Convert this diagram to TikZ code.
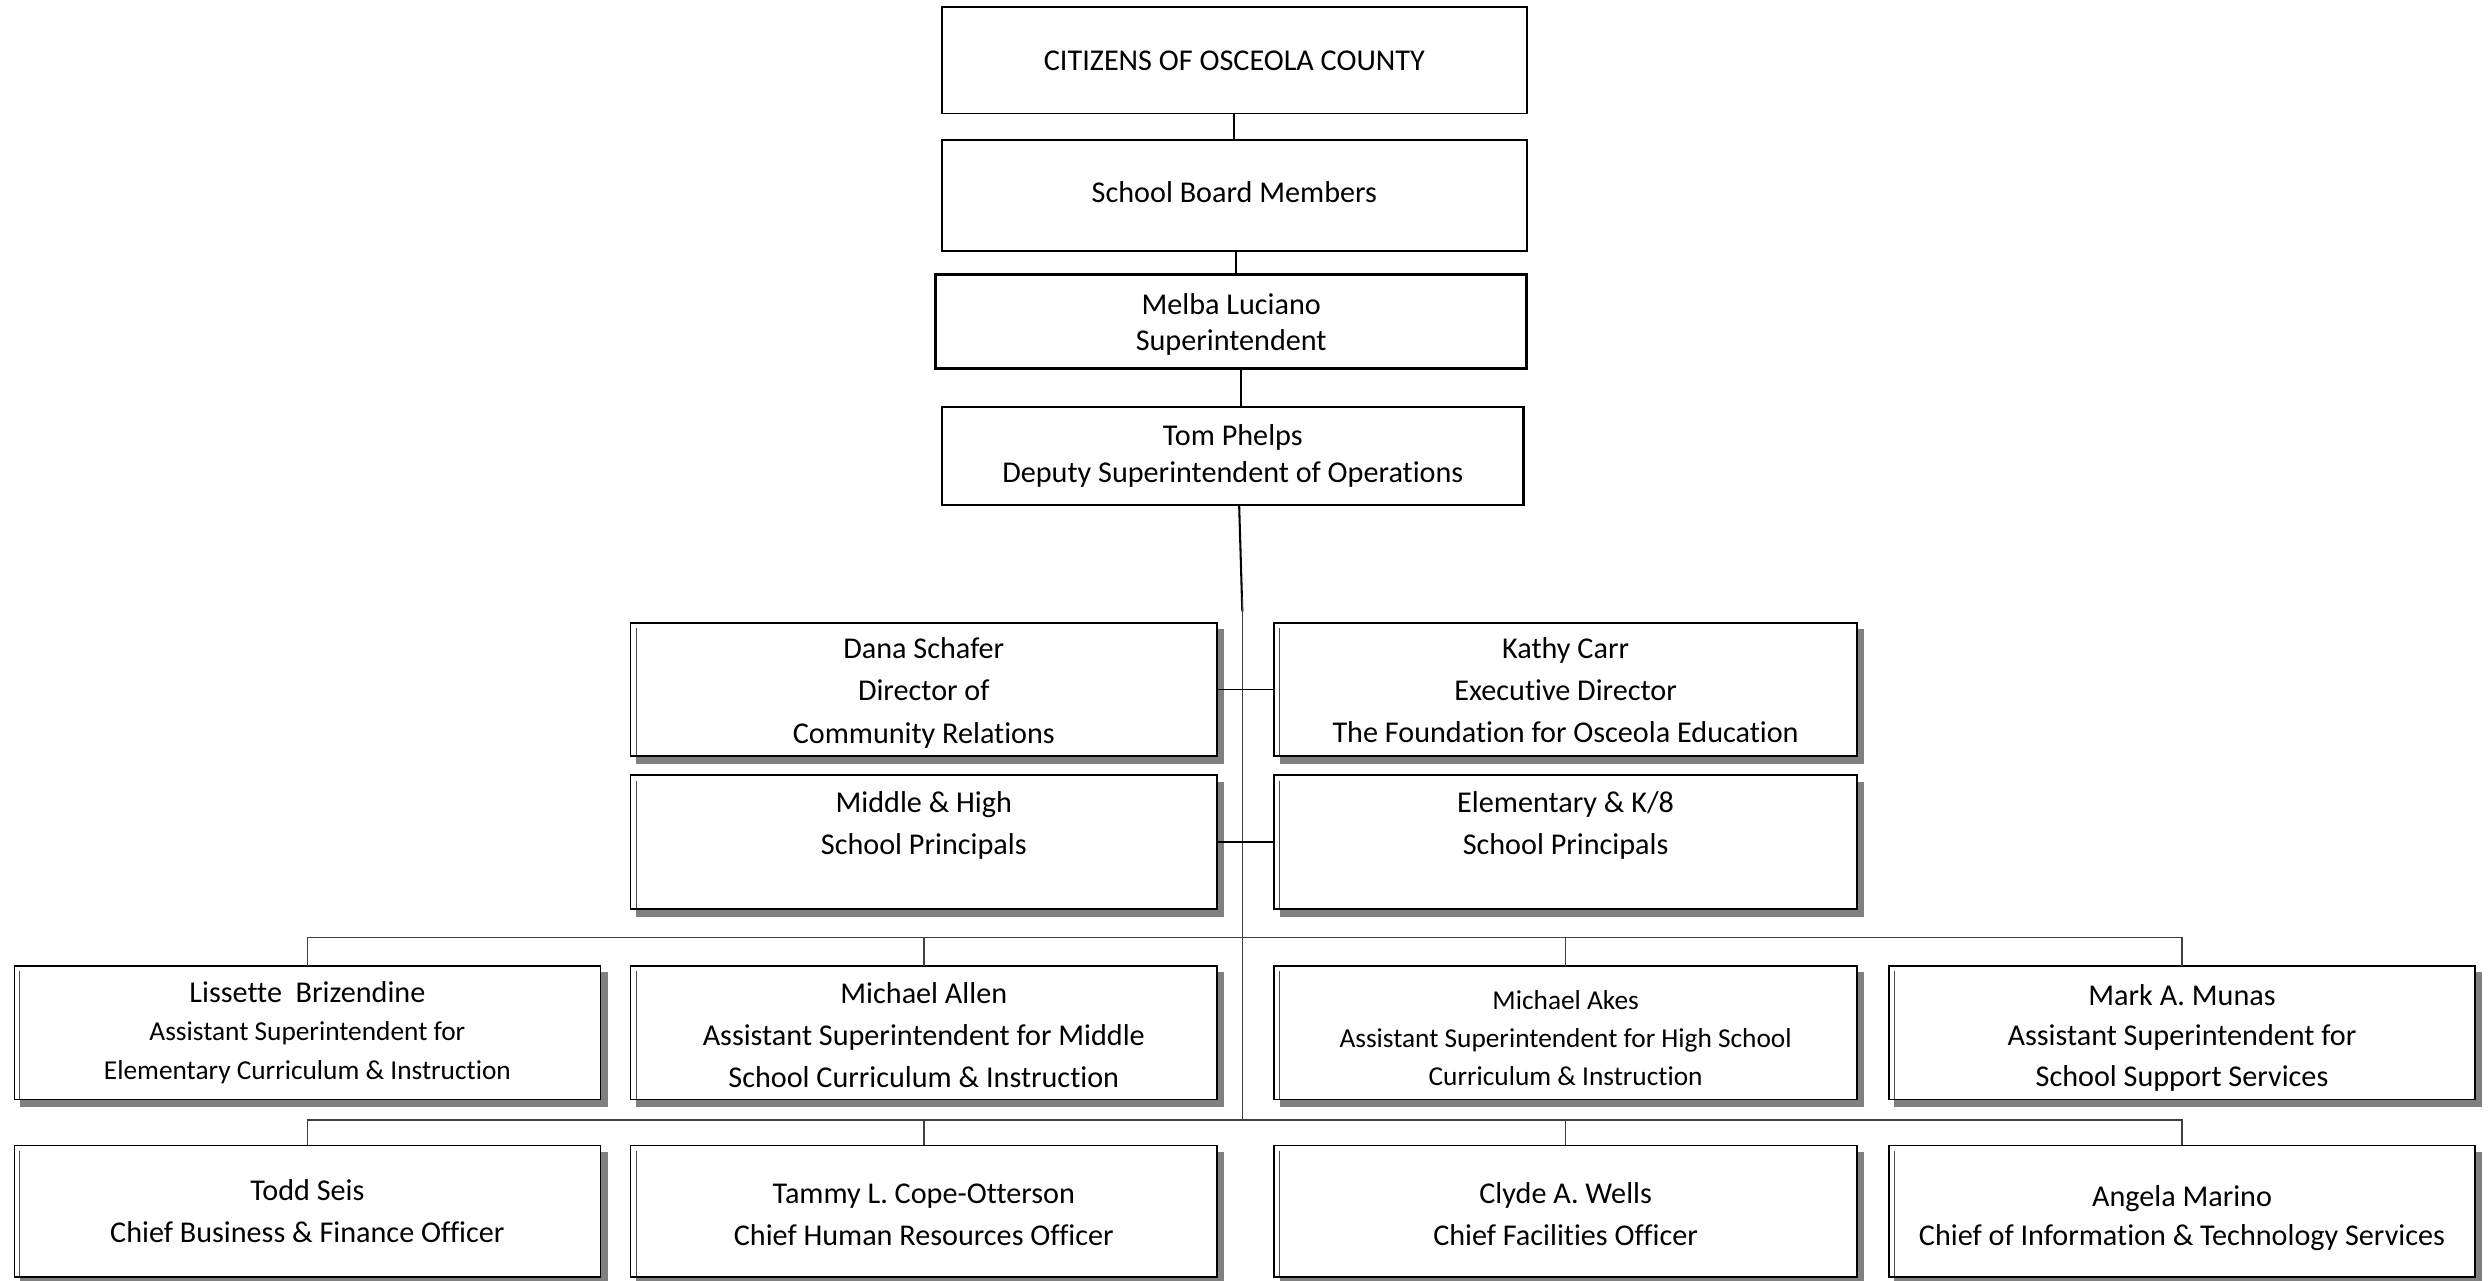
\documentclass[tikz,border=0pt]{standalone}
\usepackage{fontspec}
\setmainfont{Carlito}[Ligatures=NoCommon]
\definecolor{shadowgray}{HTML}{808080}
\newcommand{\tstr}[1]{\rule{0pt}{#1pt}}
\begin{document}
\begin{tikzpicture}[x=1pt,y=-1pt,
  box/.style={draw=black, fill=white, line width=1pt, inner sep=0pt, outer sep=0pt, align=center, text=black},
  big/.style={font=\fontsize{19}{23}\selectfont},
  wide/.style={font=\fontsize{19}{26.5}\selectfont},
  small/.style={font=\fontsize{17.2}{24}\selectfont},
  shbox/.style={box, minimum width=369pt, minimum height=84pt,
    preaction={fill=shadowgray, draw=shadowgray, transform canvas={xshift=4pt,yshift=-4.5pt}},
    path picture={\draw[line width=0.8pt, black!70] ([xshift=3.5pt,yshift=-3.5pt]path picture bounding box.north west) -- ([xshift=3.5pt]path picture bounding box.south west);}},
  conn/.style={line width=1.3pt, black},
  side/.style={line width=1pt, black},
  branch/.style={line width=0.9pt, black!75}]
\useasboundingbox (0,0) rectangle (1568,806);
% top chain
\node[box, big, minimum width=368pt, minimum height=67pt] (cit) at (777,38) {CITIZENS OF OSCEOLA COUNTY};
\node[box, big, minimum width=368pt, minimum height=70pt] (sbm) at (777,123) {School Board Members\\[-26pt]\strut};
\node[box, big, line width=1.7pt, minimum width=372pt, minimum height=59pt] (mel) at (775,202.5) {\tstr{16.5}Melba Luciano\\Superintendent};
\node[box, big, line width=1.4pt, minimum width=366pt, minimum height=62pt] (tom) at (776,287) {Tom Phelps\\Deputy Superintendent of Operations};
% second tier
\node[shbox, wide] (dana) at (581.5,434) {\tstr{17.5}Dana Schafer\\Director of\\Community Relations};
\node[shbox, wide, minimum width=367pt] (kathy) at (985.5,434) {\tstr{14}Kathy Carr\\Executive Director\\The Foundation for Osceola Education};
\node[shbox, wide] (mid) at (581.5,530) {Middle \& High\\School Principals\\[-10pt]\strut};
\node[shbox, wide, minimum width=367pt] (elem) at (985.5,530) {Elementary \& K/8\\School Principals\\[-10pt]\strut};
% third tier
\node[shbox, small] (liss) at (193.5,650) {{\fontsize{19}{24}\selectfont Lissette\ \ Brizendine}\\Assistant Superintendent for\\Elementary Curriculum \& Instruction};
\node[shbox, wide] (allen) at (581.5,650) {\tstr{16}Michael Allen\\Assistant Superintendent for Middle\\School Curriculum \& Instruction};
\node[shbox, small, minimum width=367pt] (akes) at (985.5,650) {\tstr{18.5}Michael Akes\\Assistant Superintendent for High School\\Curriculum \& Instruction};
\node[shbox, font=\fontsize{19}{25.5}\selectfont] (munas) at (1373.5,650) {\tstr{19.5}Mark A. Munas\\Assistant Superintendent for\\School Support Services};
% fourth tier
\node[shbox, wide, minimum height=83pt] (todd) at (193.5,762.5) {Todd Seis\\Chief Business \& Finance Officer};
\node[shbox, wide, minimum height=83pt] (tammy) at (581.5,762.5) {\tstr{17}Tammy L. Cope-Otterson\\Chief Human Resources Officer};
\node[shbox, wide, minimum height=83pt, minimum width=367pt] (clyde) at (985.5,762.5) {\tstr{17}Clyde A. Wells\\Chief Facilities Officer};
\node[shbox, font=\fontsize{19}{24.5}\selectfont, minimum height=83pt] (angela) at (1373.5,762.5) {\tstr{21.5}Angela Marino\\Chief of Information \& Technology Services};
% connectors top
\draw[conn] (cit.south) -- (cit.south |- sbm.north);
\draw[conn] ([xshift=1pt]sbm.south) -- ([xshift=1pt]sbm.south |- mel.north);
\draw[conn] ([xshift=6pt]mel.south) -- ([xshift=6pt]mel.south |- tom.north);
\coordinate (tk) at (782,385);
\coordinate (trtop) at (782,376);
\coordinate (trbot) at (782,705);
\draw[conn] ([xshift=4pt]tom.south) -- (tk);
\draw[branch] (trtop) -- (trbot);
\draw[side] (dana.east) -- (kathy.west);
\draw[side] (mid.east) -- (elem.west);
% branch row 3
\draw[branch] (liss.north) -- ++(0,-18) -| (munas.north);
\draw[branch] (allen.north) -- ++(0,-18);
\draw[branch] (akes.north) -- ++(0,-18);
% branch row 4
\draw[branch] (todd.north) -- ++(0,-16) -| (angela.north);
\draw[branch] (tammy.north) -- ++(0,-16);
\draw[branch] (clyde.north) -- ++(0,-16);
\end{tikzpicture}
\end{document}
